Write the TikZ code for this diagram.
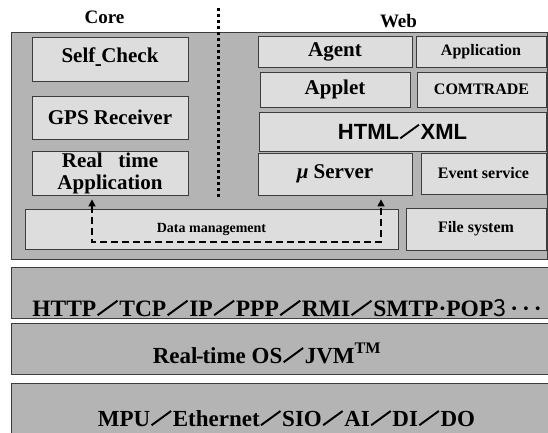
\documentclass[tikz,border=0pt]{standalone}
\usepackage{fontspec}
\setmainfont{Liberation Serif}
\newfontfamily\sansfam{Liberation Sans}
\newfontfamily\cjk{Noto Sans CJK JP}
\usetikzlibrary{arrows.meta}
\definecolor{panelgray}{RGB}{180,180,180}
\definecolor{boxgray}{RGB}{221,221,221}
\definecolor{edgegray}{RGB}{60,60,60}
% shallow full-width style slash used between protocol names
\newcommand\slashmark{\kern0.03em\rotatebox{36}{\rule{1.05em}{0.085em}}\kern0.05em}
\tikzset{
  panel/.style={draw=edgegray, fill=panelgray, line width=0.8pt},
  unit/.style={draw=edgegray, fill=boxgray, line width=0.8pt, inner sep=0pt, align=center},
  big/.style={font=\bfseries\fontsize{21}{22}\selectfont},
  mid/.style={font=\bfseries\fontsize{16}{18}\selectfont},
  small/.style={font=\bfseries\fontsize{14}{16}\selectfont},
  head/.style={font=\bfseries\fontsize{19}{20}\selectfont, inner sep=0pt, anchor=base},
  layertxt/.style={font=\bfseries\fontsize{23.5}{24}\selectfont, inner sep=0pt, anchor=base},
  dotline/.style={line width=3pt, dash pattern=on 3pt off 3pt},
  flow/.style={line width=1.5pt, dash pattern=on 7pt off 4pt,
    {Triangle[length=7pt,width=7pt]}-{Triangle[length=7pt,width=7pt]}, shorten <=4pt, shorten >=4pt}
}
\begin{document}
\begin{tikzpicture}[x=1pt,y=-1pt]
\useasboundingbox (0,0) rectangle (548,432);
\clip (0,0) rectangle (548,432);

% column headings
\node[head] (core) at (104.5,23) {Core};
\node[head] (web) at (398.5,27) {Web};

% application panel
\draw[panel] (11,32) rectangle (547,259);

% core side
\node[unit, big, minimum width=156pt, minimum height=44pt] (self) at (110,59)
  {\raisebox{2pt}{Self\makebox[0.28em]{\raisebox{-0.35em}{-}}Check}};
\node[unit, big, minimum width=156pt, minimum height=43pt] (gps) at (110,117.5) {GPS Receiver};
\node[unit, big, minimum width=156pt, minimum height=44pt] (rt) at (110,173)
  {Real\ \ \ time\\Application};

% web side
\node[unit, big, minimum width=154pt, minimum height=31pt] (agent) at (335,51.5) {Agent};
\node[unit, mid, minimum width=130pt, minimum height=31pt] (appl) at (481,51.5) {Application};
\node[unit, big, minimum width=150pt, minimum height=35pt] (applet) at (335,89.5) {Applet};
\node[unit, mid, minimum width=129pt, minimum height=35pt] (comtrade) at (481.5,89.5) {COMTRADE};
\node[unit, font=\sansfam\bfseries\fontsize{22}{24}\selectfont, minimum width=287pt, minimum height=39pt] (html) at (402.5,131.5)
  {\raisebox{-7pt}{HTML\slashmark XML}};
\node[unit, big, minimum width=154pt, minimum height=42pt] (mu) at (335,174)
  {\raisebox{-5pt}{{\itshape μ} Server}};
\node[unit, mid, minimum width=125pt, minimum height=41pt] (event) at (483.5,173.5) {Event service};

% storage row
\node[unit, small, minimum width=373pt, minimum height=40pt] (data) at (211.5,229) {\raisebox{1pt}{Data management}};
\node[unit, mid, minimum width=140pt, minimum height=42pt] (files) at (476,229) {\raisebox{-2pt}{File system}};

% separator between core and web
\draw[dotline] (218,8) -- (218,197);

% data paths from the data manager
\coordinate (bendL) at (92,242);
\coordinate (bendR) at (381,242);
\draw[flow] (rt.south -| bendL) -- (bendL) -- (bendR) -- (mu.south -| bendR);

% lower layers
\draw[panel] (11,267) rectangle (552,318);
\draw[panel] (11,323) rectangle (552,374);
\draw[panel] (11,383) rectangle (552,440);
\node[layertxt] (proto) at (287,316)
  {HTTP\slashmark TCP\slashmark IP\slashmark PPP\slashmark RMI\slashmark SMTP·POP{\cjk\mdseries 3}\,·\,·\,·};
\node[layertxt, font=\bfseries\fontsize{23}{24}\selectfont] (os) at (267,363) {Real\kern-0.06em-\kern-0.06em time OS\slashmark JVM\textsuperscript{TM}};
\node[layertxt, font=\bfseries\fontsize{23}{24}\selectfont] (hw) at (286.5,426) {MPU\slashmark Ethernet\slashmark SIO\slashmark AI\slashmark DI\slashmark DO};
\end{tikzpicture}
\end{document}
